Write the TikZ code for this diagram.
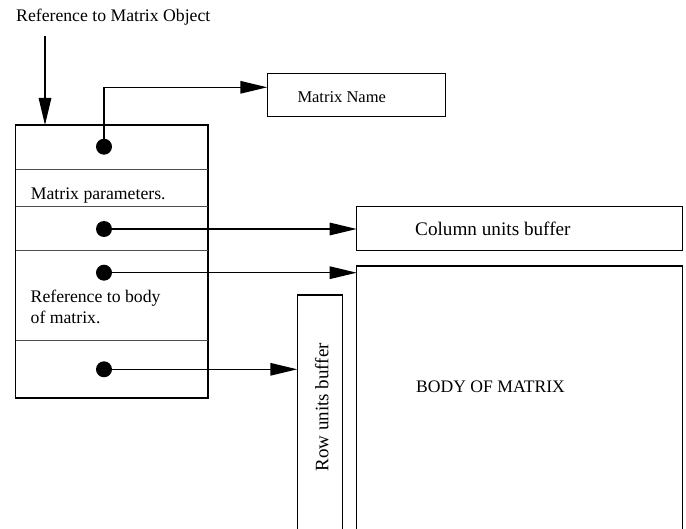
\documentclass[tikz,border=0pt]{standalone}
\usepackage{fontspec}
\setmainfont{Liberation Serif}
\usetikzlibrary{arrows.meta,calc}
\begin{document}
\begin{tikzpicture}[x=1pt,y=-1pt,
  box/.style={draw,line width=1.5pt,inner sep=0pt,outer sep=0pt,anchor=north west},
  divider/.style={line width=0.9pt,draw=black!70},
  link/.style={line width=1.4pt,-{Triangle[length=27pt,width=12.5pt]}},
  dot/.style={circle,fill,inner sep=0pt,minimum size=16pt},
  lbl/.style={inner sep=0pt,anchor=base west,font=\fontsize{17.7}{20.5}\selectfont}]
\useasboundingbox (0,0) rectangle (686,529);
\clip (0,0) rectangle (686,529);

% entry reference
\node[lbl] (title) at (16,21.7) {Reference to Matrix Object};

% matrix object record
\node[box,minimum width=192.5pt,minimum height=273pt] (obj) at (15.5,125) {};
\coordinate (entry) at (45,36);
\draw[link] (entry) -- (entry |- obj.north);
\foreach \y in {169,206,250.7,340}
  \draw[divider] (obj.west |- 0,\y) -- (obj.east |- 0,\y);

\node[lbl] (params) at (30.7,200) {Matrix parameters.};
% the base anchor of a two-line node sits on its last line
\node[lbl,align=left] (bodyref) at (30.5,323.5) {Reference to body\\of matrix.};

% pointer fields
\node[dot] (d1) at (104,146.7) {};
\node[dot] (d2) at (104,229) {};
\node[dot] (d3) at (104,272.7) {};
\node[dot] (d4) at (104,369.3) {};

% targets
\node[box,minimum width=178.4pt,minimum height=43.4pt] (mname) at (267.3,73.3) {};
\node[lbl,font=\fontsize{16.5}{19}\selectfont] (mnametext) at (297.3,102.7) {Matrix Name};

\node[box,minimum width=325.8pt,minimum height=44pt] (col) at (356.7,206.7) {};
\node[lbl,font=\fontsize{19.2}{22}\selectfont] (coltext) at (415,236) {Column units buffer};

\node[box,minimum width=325.8pt,minimum height=300pt] (body) at (356.7,266) {};
\node[lbl,font=\fontsize{17.6}{20}\selectfont] (bodytext) at (416,392.3) {BODY OF MATRIX};

\node[box,minimum width=45pt,minimum height=260pt] (row) at (297.3,295) {};
\node[lbl,rotate=90,font=\fontsize{19}{22}\selectfont] (rowtext) at (328.3,471.7) {Row units buffer};

% connectors
\coordinate (nameport) at (0,87.3);
\draw[link] (d1.center) |- (mname.west |- nameport);
\draw[link] (d2.center) -- (d2 -| col.west);
\draw[link] (d3.center) -- (d3 -| body.west);
\draw[link] (d4.center) -- (d4 -| row.west);
\end{tikzpicture}
\end{document}
